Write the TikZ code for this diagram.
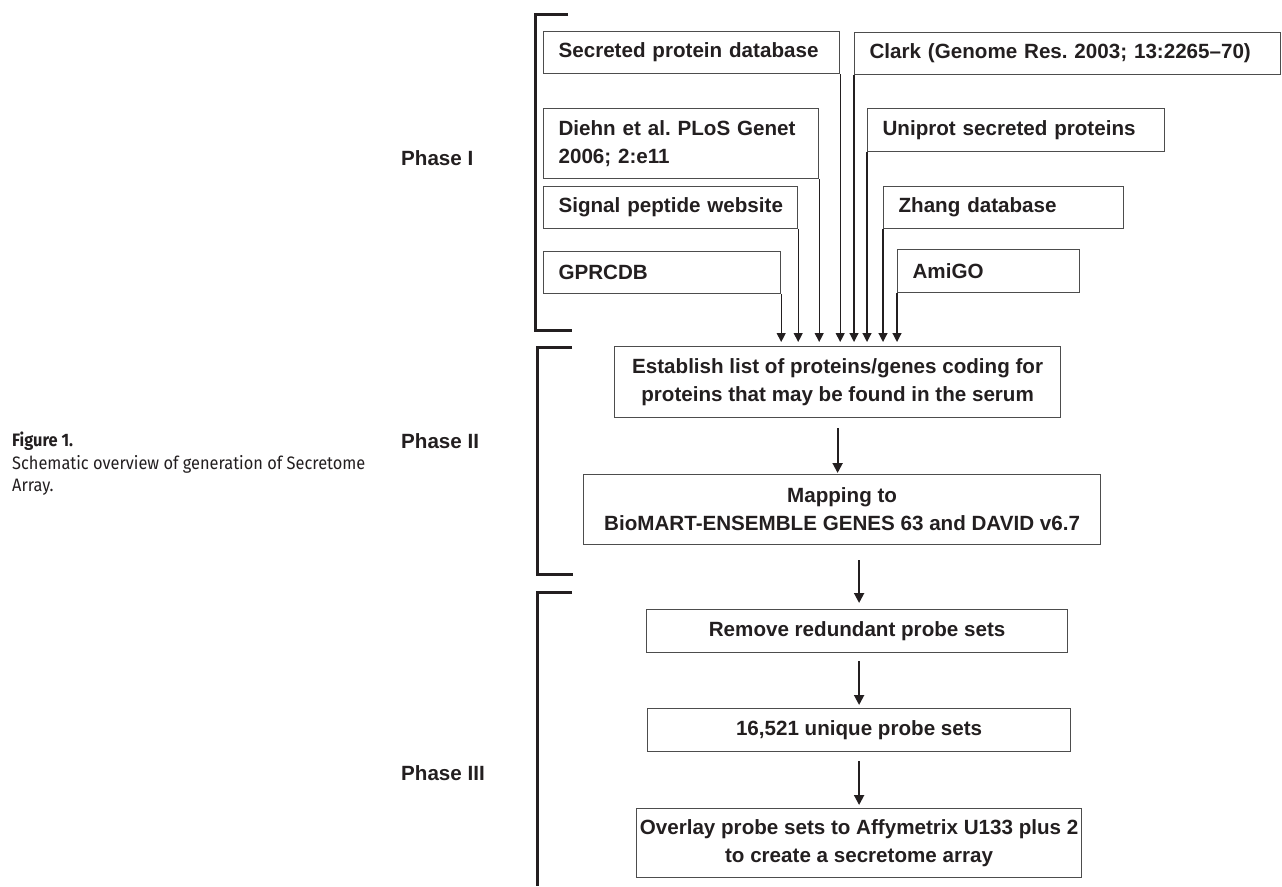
\documentclass[tikz,border=0pt]{standalone}
\usepackage{fontspec}
\setmainfont{Liberation Sans}
\newfontfamily\capfont[FakeStretch=0.91]{Fira Sans}
\usetikzlibrary{arrows.meta, positioning, calc}
\definecolor{txt}{HTML}{231F20}
\definecolor{boxgray}{HTML}{4D4D4D}
\frenchspacing
\tikzset{
  srcbox/.style = {draw=boxgray, line width=1.2pt, anchor=north west, align=left, inner xsep=15pt, inner ysep=0pt, minimum height=42pt, text=txt, font=\bfseries\fontsize{20.6}{28}\selectfont},
  stepbox/.style = {draw=boxgray, line width=1.2pt, anchor=north west, align=center, inner sep=0pt, text=txt, font=\bfseries\fontsize{20.6}{28}\selectfont},
  phase/.style = {anchor=west, inner sep=0pt, text=txt, font=\bfseries\fontsize{20.6}{25}\selectfont},
  captxt/.style = {anchor=base west, inner sep=0pt, text=txt, font=\capfont\fontsize{18}{22}\selectfont},
  brack/.style = {draw=txt, line width=3pt},
  feed/.style = {draw=txt, line width=1.2pt, -{Triangle[length=9pt,width=9pt]}, shorten >=4pt},
  flow/.style = {draw=txt, line width=2pt, -{Triangle[length=10pt,width=10pt]}}
}
\begin{document}
\begin{tikzpicture}[x=1pt, y=-1pt]
  \useasboundingbox (0,0) rectangle (1282,886);
  % sources
  \node[srcbox, text width=266pt] (sec) at (543,31) {\mbox{Secreted protein database}};
  \node[srcbox, text width=245pt, minimum height=70pt] (diehn) at (543,108) {\mbox{Diehn et al. PLoS Genet}\\2006; 2:e11};
  \node[srcbox, text width=224pt] (sig) at (543,186) {\mbox{Signal peptide website}};
  \node[srcbox, text width=207pt] (gpr) at (543,251) {GPRCDB};
  \node[srcbox, text width=396pt] (clark) at (854,32) {\mbox{Clark (Genome Res. 2003; 13:2265--70)}};
  \node[srcbox, text width=267pt, minimum height=43pt] (uni) at (867,108) {\mbox{Uniprot secreted proteins}};
  \node[srcbox, text width=210pt] (zh) at (883,186) {\mbox{Zhang database}};
  \node[srcbox, text width=152pt, minimum height=43pt] (ami) at (897,249) {AmiGO};
  % steps
  \node[stepbox, minimum width=446pt, minimum height=71pt] (est) at (614,346) {Establish list of proteins/genes coding for\\proteins that may be found in the serum};
  \node[stepbox, minimum width=517pt, minimum height=70pt] (map) at (583,474) {Mapping to\\BioMART-ENSEMBLE GENES 63 and DAVID v6.7};
  \node[stepbox, minimum width=421pt, minimum height=43pt] (rem) at (646,609) {Remove redundant probe sets};
  \node[stepbox, minimum width=423pt, minimum height=43pt] (uniq) at (647,708) {16,521 unique probe sets};
  \node[stepbox, minimum width=445pt, minimum height=69pt] (ovl) at (636,808) {Overlay probe sets to Affymetrix U133 plus 2\\to create a secretome array};
  % phases
  \node[phase] (ph1) at (401,158) {Phase I};
  \node[phase] (ph2) at (401,441) {Phase II};
  \node[phase] (ph3) at (401,773) {Phase III};
  \draw[brack] (568,14) -- (535,14) -- (535,330) -- (572,330);
  \draw[brack] (572,347) -- (537,347) -- (537,574) -- (573,574);
  \draw[brack] (572,592) -- (537,592) -- (537,886);
  % caption
  \node[captxt] (fig) at (12,446) {\textbf{Figure 1.}};
  \node[captxt] (cap1) at (12,469) {Schematic overview of generation of Secretome};
  \node[captxt] (cap2) at (12,491) {Array.};
  % arrows
  \foreach \b in {gpr, sig, diehn, sec}
    \draw[feed] (\b.south east) -- (\b.south east |- est.north);
  \foreach \b in {clark, uni, zh, ami}
    \draw[feed] (\b.south west) -- (\b.south west |- est.north);
  \draw[flow, shorten <=10pt, shorten >=1pt] (est.south) -- (est.south |- map.north);
  \draw[flow, shorten <=15pt, shorten >=6pt] (map.south -| uniq.north) -- (uniq.north |- rem.north);
  \draw[flow, shorten <=8pt, shorten >=3pt] (rem.south -| uniq.north) -- (uniq.north);
  \draw[flow, shorten <=9pt, shorten >=3pt] (uniq.south) -- (uniq.south |- ovl.north);
\end{tikzpicture}
\end{document}
